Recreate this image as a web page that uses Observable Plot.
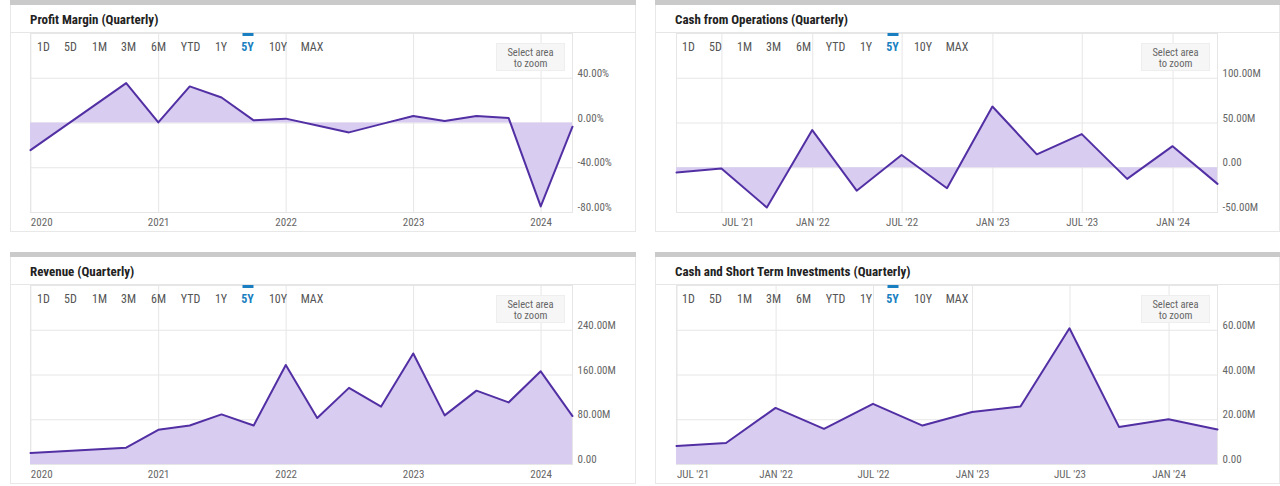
<!DOCTYPE html>
<html><head><meta charset="utf-8">
<script src="https://cdn.jsdelivr.net/npm/d3@7"></script>
<script src="https://cdn.jsdelivr.net/npm/@observablehq/plot@0.6"></script>
<style>
html,body{margin:0;padding:0;background:#fff;}
body{width:1280px;height:486px;overflow:hidden;position:relative;font-family:"Roboto Condensed","Liberation Sans Narrow","Arial Narrow","DejaVu Sans Condensed",sans-serif;}
.card{position:absolute;background:#fff;}
.border{position:absolute;left:0;top:0;right:0;bottom:0;border:1px solid #e8e8e8;box-sizing:border-box;}
.bar{position:absolute;left:0;right:0;top:0;height:5px;background:#cacaca;}
.title{position:absolute;left:20px;top:11px;font-weight:bold;font-size:13px;color:#222;line-height:18px;white-space:nowrap;}
.sep{position:absolute;left:0;right:0;top:32px;height:1px;background:#e6e6e6;}
.rb{position:absolute;top:40px;font-size:12px;color:#555;line-height:15px;transform:translateX(-50%);white-space:nowrap;}
.rb.on{color:#1a7fc1;font-weight:bold;}
.onbar{position:absolute;top:33px;height:3px;width:11px;background:#1a7fc1;transform:translateX(-50%);}
.zoom{position:absolute;left:486px;top:43px;width:69px;height:28px;background:#f6f6f6;border:1px solid #eeeeee;box-sizing:border-box;font-size:10.5px;color:#666;text-align:center;line-height:11px;padding-top:3px;}
.chart{position:absolute;left:0;top:33px;}
</style>
</head><body>
<script>
// ---------- data ----------
const quartersA = ["2019-12-31","2020-09-30","2020-12-31","2021-03-31","2021-06-30","2021-09-30","2021-12-31","2022-03-31","2022-06-30","2022-09-30","2022-12-31","2023-03-31","2023-06-30","2023-09-30","2023-12-31","2024-03-31"];
const profitMargin = [-24.3, 35.7, 0.5, 32.7, 22.8, 2.4, 3.9, -2.3, -8.4, -1.0, 6.3, 1.8, 6.3, 4.5, -74.6, -3.3];
const revenue = [20.5, 30.0, 62.0, 69.8, 89.6, 69.8, 178.0, 83.0, 137.0, 103.5, 198.5, 87.8, 132.0, 111.0, 166.6, 86.6];

const quartersB = ["2021-03-31","2021-06-30","2021-09-30","2021-12-31","2022-03-31","2022-06-30","2022-09-30","2022-12-31","2023-03-31","2023-06-30","2023-09-30","2023-12-31","2024-03-31"];
const cashOps = [-5.3, -0.8, -44.4, 42.1, -25.6, 14.3, -22.9, 68.4, 15.0, 37.6, -12.4, 24.1, -18.0];

const quartersC = ["2021-06-30","2021-09-30","2021-12-31","2022-03-31","2022-06-30","2022-09-30","2022-12-31","2023-03-31","2023-06-30","2023-09-30","2023-12-31","2024-03-31"];
const cashInv = [8.3, 9.6, 25.3, 15.9, 27.1, 17.4, 23.5, 25.9, 60.9, 16.8, 20.2, 15.6];

const yearTickDates = ["2020-01-01","2021-01-01","2022-01-01","2023-01-01","2024-01-01"];
const yearTickLabels = ["2020","2021","2022","2023","2024"];
const halfTickDates = ["2021-07-01","2022-01-01","2022-07-01","2023-01-01","2023-07-01","2024-01-01"];
const halfTickLabels = ["JUL '21","JAN '22","JUL '22","JAN '23","JUL '23","JAN '24"];

const pmTicks = [-80, -40, 0, 40];
const cfoTicks = [-50, 0, 50, 100];
const revTicks = [0, 80, 160, 240];
const invTicks = [0, 20, 40, 60];

const rangeButtons = ["1D","5D","1M","3M","6M","YTD","1Y","5Y","10Y","MAX"];
const activeRange = "5Y";

const titles = ["Profit Margin (Quarterly)","Cash from Operations (Quarterly)","Revenue (Quarterly)","Cash and Short Term Investments (Quarterly)"];

// ---------- helpers ----------
const D = s => new Date(s + "T00:00:00Z");
const pct = d => d.toFixed(2) + "%";
const mil = d => d === 0 ? "0.00" : d.toFixed(2) + "M";
const FILL = "#d8ccf0", LINE = "#5230a4", GRID = "#e6e6e6";
const FONT = '"Roboto Condensed","Liberation Sans Narrow","Arial Narrow","DejaVu Sans Condensed",sans-serif';

const btnCenters = [33.5, 60.5, 89.5, 118.5, 148.5, 180.5, 211, 237.5, 268, 302];

function card(left, top, width, height, title, chartSvg) {
  const c = document.createElement("div");
  c.className = "card";
  Object.assign(c.style, {left: left + "px", top: top + "px", width: width + "px", height: height + "px"});
  c.innerHTML = `<div class="border"></div><div class="bar"></div><div class="title">${title}</div><div class="sep"></div>`;
  const holder = document.createElement("div");
  holder.className = "chart";
  holder.appendChild(chartSvg);
  c.appendChild(holder);
  rangeButtons.forEach((b, i) => {
    const s = document.createElement("div");
    s.className = "rb" + (b === activeRange ? " on" : "");
    s.style.left = btnCenters[i] + "px";
    s.textContent = b;
    c.appendChild(s);
    if (b === activeRange) {
      const bar = document.createElement("div");
      bar.className = "onbar";
      bar.style.left = btnCenters[i] + "px";
      c.appendChild(bar);
    }
  });
  const z = document.createElement("div");
  z.className = "zoom";
  z.innerHTML = "Select area<br>to zoom";
  c.appendChild(z);
  document.body.appendChild(c);
}

function chart({dates, values, xDomain, yDomain, yTicks, yFormat, xTickDates, xTickLabels, width, marginLeft, marginRight}) {
  const data = dates.map((d, i) => ({date: D(d), v: values[i]}));
  const xt = xTickDates.map(D);
  const lab = new Map(xt.map((d, i) => [+d, xTickLabels[i]]));
  const fmt = d => lab.get(+d);
  return Plot.plot({
    width, height: 199,
    marginLeft, marginRight, marginTop: 0, marginBottom: 20,
    x: {type: "utc", domain: xDomain.map(D)},
    y: {domain: yDomain},
    style: {fontFamily: FONT, fontSize: "11px", color: "#666", background: "transparent", overflow: "visible"},
    marks: [
      Plot.gridY(yTicks, {stroke: GRID, strokeOpacity: 1}),
      Plot.gridX(xt, {stroke: GRID, strokeOpacity: 1}),
      Plot.frame({stroke: GRID}),
      Plot.areaY(data, {x: "date", y1: 0, y2: "v", fill: FILL, fillOpacity: 1}),
      Plot.lineY(data, {x: "date", y: "v", stroke: LINE, strokeWidth: 2}),
      Plot.axisY(yTicks, {anchor: "right", tickSize: 0, tickPadding: 5, dy: -5, tickFormat: yFormat, label: null, fill: "#666"}),
      Plot.axisX(xt.slice(0, 1), {anchor: "bottom", tickSize: 0, tickPadding: 6, tickFormat: fmt, label: null, textAnchor: "start", fill: "#666"}),
      Plot.axisX(xt.slice(1), {anchor: "bottom", tickSize: 0, tickPadding: 6, tickFormat: fmt, label: null, fill: "#666"})
    ]
  });
}

// top-left: profit margin
card(10, 0, 626, 232, titles[0], chart({
  dates: quartersA, values: profitMargin, xDomain: ["2019-12-31", "2024-03-31"],
  yDomain: [-80, 80], yTicks: pmTicks, yFormat: pct,
  xTickDates: yearTickDates, xTickLabels: yearTickLabels,
  width: 626, marginLeft: 20, marginRight: 64
}));
// top-right: cash from operations
card(655, 0, 625, 232, titles[1], chart({
  dates: quartersB, values: cashOps, xDomain: ["2021-03-31", "2024-03-31"],
  yDomain: [-50, 150], yTicks: cfoTicks, yFormat: mil,
  xTickDates: halfTickDates, xTickLabels: halfTickLabels,
  width: 625, marginLeft: 21, marginRight: 63
}));
// bottom-left: revenue
card(10, 252, 626, 232, titles[2], chart({
  dates: quartersA, values: revenue, xDomain: ["2019-12-31", "2024-03-31"],
  yDomain: [0, 320], yTicks: revTicks, yFormat: mil,
  xTickDates: yearTickDates, xTickLabels: yearTickLabels,
  width: 626, marginLeft: 20, marginRight: 64
}));
// bottom-right: cash and short term investments
card(655, 252, 625, 232, titles[3], chart({
  dates: quartersC, values: cashInv, xDomain: ["2021-06-30", "2024-03-31"],
  yDomain: [0, 80], yTicks: invTicks, yFormat: mil,
  xTickDates: halfTickDates, xTickLabels: halfTickLabels,
  width: 625, marginLeft: 21, marginRight: 63
}));
</script>
</body></html>
